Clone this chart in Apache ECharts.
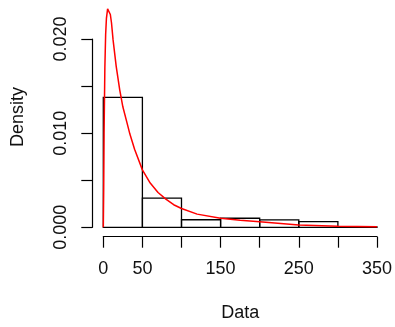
<!DOCTYPE html>
<html>
<head>
<meta charset="utf-8">
<script src="https://cdn.jsdelivr.net/npm/echarts@6/dist/echarts.min.js"></script>
<style>
  html, body { margin: 0; padding: 0; background: #fff; }
  #chart { width: 395px; height: 327px; }
</style>
</head>
<body>
<div id="chart"></div>
<script>
// histogram bins
var binStart = [0, 50, 100, 150, 200, 250, 300];
var binEnd = [50, 100, 150, 200, 250, 300, 350];
var binDensity = [0.0138, 0.0031, 0.0008, 0.00096, 0.00078, 0.0006, 0.00005];

// fitted density curve (red)
var curveX = [0, 0.5, 1, 2, 3, 4, 5.5, 7, 9, 10.5, 12.5, 16.5, 21, 25, 30, 34, 40, 50,
  60, 70, 80, 90, 100, 120, 150, 175, 200, 250, 300, 350];
var curveY = [0, 0.004, 0.010, 0.017, 0.0205, 0.0222, 0.0232, 0.0233, 0.0226, 0.0217,
  0.0199, 0.0171, 0.0146, 0.0128, 0.0112, 0.0099, 0.0083, 0.0061,
  0.0047, 0.0037, 0.0030, 0.0024, 0.0020, 0.0014, 0.00096, 0.00075, 0.0006, 0.00025, 0.0001, 0.00007];

// tick labels R actually printed
var xLabelShown = [0, 50, 150, 250, 350];
var yLabelShown = [0, 0.01, 0.02];

var font = "'Liberation Sans', Arial, sans-serif";

var chart = echarts.init(document.getElementById("chart"));

var bins = binStart.map(function (s, i) {
  return [s, binEnd[i], binDensity[i]];
});
var curve = curveX.map(function (x, i) {
  return [x, curveY[i]];
});

chart.setOption({
  animation: false,
  grid: { left: 103.3, right: 15, top: 39, bottom: 99.7 },
  xAxis: {
    type: "value",
    min: 0,
    max: 350,
    interval: 50,
    offset: 9.4,
    name: "Data",
    nameLocation: "middle",
    nameGap: 67,
    nameTextStyle: { fontFamily: font, fontSize: 18, color: "#111" },
    axisLine: { show: true, onZero: false, lineStyle: { color: "#000", width: 1.2 } },
    axisTick: { show: true, length: 11, lineStyle: { color: "#000", width: 1.2 } },
    splitLine: { show: false },
    axisLabel: {
      margin: 23,
      fontFamily: font,
      fontSize: 18,
      color: "#111",
      showMinLabel: true,
      showMaxLabel: true,
      formatter: function (v) {
        return xLabelShown.indexOf(v) >= 0 ? String(v) : "";
      }
    }
  },
  yAxis: {
    type: "value",
    min: 0,
    max: 0.02,
    interval: 0.005,
    offset: 11,
    axisLine: { show: true, onZero: false, lineStyle: { color: "#000", width: 1.2 } },
    axisTick: { show: true, length: 11, lineStyle: { color: "#000", width: 1.2 } },
    splitLine: { show: false },
    axisLabel: {
      rotate: 90,
      margin: 22,
      fontFamily: font,
      fontSize: 18,
      color: "#111",
      formatter: function (v) {
        var ok = yLabelShown.some(function (s) { return Math.abs(s - v) < 1e-9; });
        return ok ? v.toFixed(3) : "";
      }
    }
  },
  graphic: [{
    type: "text",
    x: 18.5,
    y: 117,
    rotation: Math.PI / 2,
    style: {
      text: "Density",
      font: "18px " + font,
      fill: "#111",
      align: "center",
      verticalAlign: "middle"
    }
  }],
  series: [
    {
      type: "custom",
      data: bins,
      renderItem: function (params, api) {
        var p0 = api.coord([api.value(0), api.value(2)]);
        var p1 = api.coord([api.value(1), 0]);
        return {
          type: "rect",
          shape: { x: p0[0], y: p0[1], width: p1[0] - p0[0], height: p1[1] - p0[1] },
          style: { fill: "none", stroke: "#000", lineWidth: 1.3 }
        };
      },
      clip: false,
      z: 2
    },
    {
      type: "line",
      data: curve,
      showSymbol: false,
      symbol: "none",
      clip: false,
      lineStyle: { color: "#ff0000", width: 1.5 },
      z: 3
    }
  ]
});
</script>
</body>
</html>
